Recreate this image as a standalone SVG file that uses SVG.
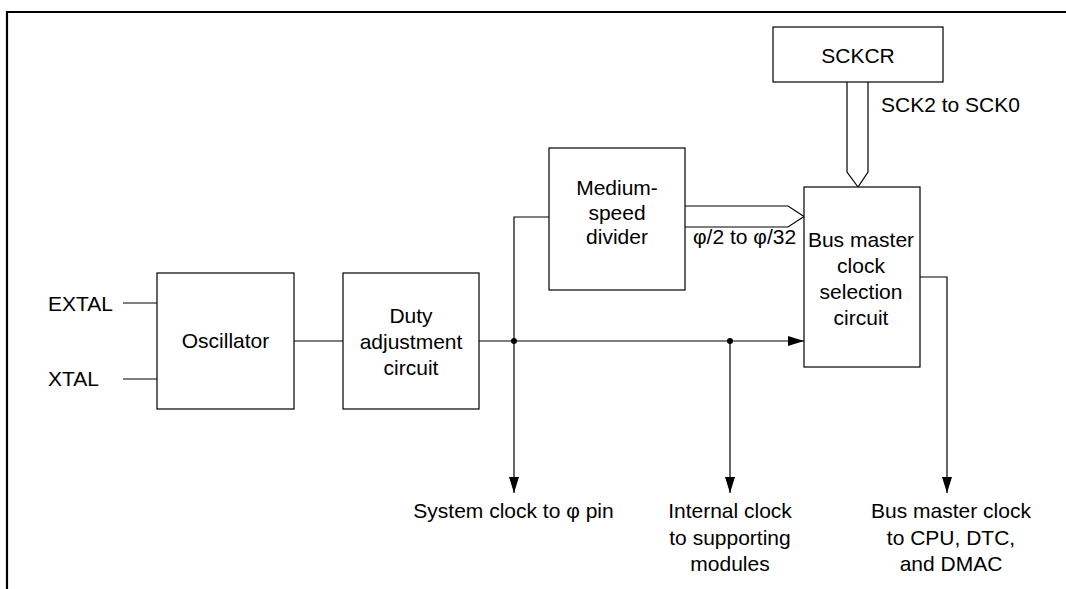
<svg xmlns="http://www.w3.org/2000/svg" width="1066" height="589" viewBox="0 0 1066 589">
<style>
.box{fill:#fff;stroke:#000;stroke-width:1.2}
.ln{fill:none;stroke:#000;stroke-width:1.2}
.bus{fill:#fff;stroke:#000;stroke-width:1.2;stroke-linejoin:miter}
text{font-family:"Liberation Sans",Arial,sans-serif;font-size:21px;fill:#000}
.c{text-anchor:middle}
</style>
<defs>
<marker id="ah" markerWidth="16" markerHeight="10" refX="16" refY="5" orient="auto" markerUnits="userSpaceOnUse">
<path d="M0,0 L16,5 L0,10 Z" fill="#000"/>
</marker>
</defs>
<rect width="1066" height="589" fill="#fff"/>
<path d="M7,589 V12 H1066" fill="none" stroke="#000" stroke-width="2.2"/>

<g id="connectors">
<line class="ln" x1="123" y1="303" x2="157" y2="303"/>
<line class="ln" x1="123" y1="379" x2="157" y2="379"/>
<line class="ln" x1="294" y1="341" x2="343" y2="341"/>
<line class="ln" x1="479" y1="341" x2="804" y2="341" marker-end="url(#ah)"/>
<polyline class="ln" points="549,217 514,217 514,493" marker-end="url(#ah)"/>
<line class="ln" x1="730" y1="341" x2="730" y2="493" marker-end="url(#ah)"/>
<polyline class="ln" points="920,277 947,277 947,493" marker-end="url(#ah)"/>
<circle cx="514" cy="341" r="3" fill="#000"/>
<circle cx="730" cy="341" r="3" fill="#000"/>
<path class="bus" d="M685,206 H788 L804,216.5 L788,227 H685"/>
<path class="bus" d="M847,82 V172 L858,187 L868,172 V82"/>
</g>

<g id="extal"><text x="48" y="311">EXTAL</text></g>
<g id="xtal"><text x="48" y="386">XTAL</text></g>

<g id="oscillator">
<rect class="box" x="157" y="273" width="137" height="136"/>
<text class="c" x="225.5" y="348">Oscillator</text>
</g>

<g id="duty">
<rect class="box" x="343" y="273" width="136" height="136"/>
<text class="c" x="411" y="323">Duty</text>
<text class="c" x="411" y="349">adjustment</text>
<text class="c" x="411" y="375">circuit</text>
</g>

<g id="divider">
<rect class="box" x="549" y="148" width="136" height="142"/>
<text class="c" x="617" y="195">Medium-</text>
<text class="c" x="617" y="220">speed</text>
<text class="c" x="617" y="244">divider</text>
</g>
<g id="divlabel"><text x="693" y="244">φ/2 to φ/32</text></g>

<g id="sckcr">
<rect class="box" x="773" y="27" width="170" height="55"/>
<text class="c" x="858" y="63">SCKCR</text>
</g>
<g id="scklabel"><text x="881" y="112">SCK2 to SCK0</text></g>

<g id="busmaster">
<rect class="box" x="804" y="187" width="116" height="180"/>
<text class="c" x="861" y="247">Bus master</text>
<text class="c" x="861" y="273">clock</text>
<text class="c" x="861" y="299">selection</text>
<text class="c" x="861" y="325">circuit</text>
</g>

<g id="out-system"><text class="c" x="513.5" y="518">System clock to φ pin</text></g>
<g id="out-internal">
<text class="c" x="730" y="518">Internal clock</text>
<text class="c" x="730" y="545">to supporting</text>
<text class="c" x="730" y="571">modules</text>
</g>
<g id="out-bus">
<text class="c" x="951" y="518">Bus master clock</text>
<text class="c" x="951" y="545">to CPU, DTC,</text>
<text class="c" x="951" y="571">and DMAC</text>
</g>
</svg>
